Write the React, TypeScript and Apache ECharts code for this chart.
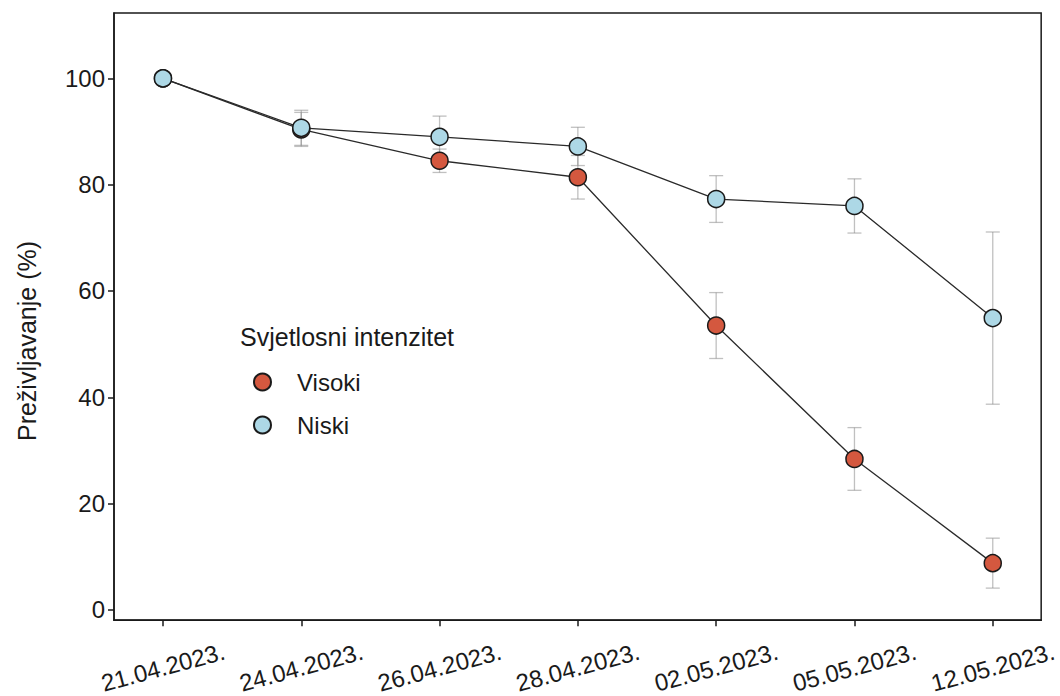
import React, { useEffect, useRef } from "react";
import * as echarts from "echarts";

const dates = ["21.04.2023.", "24.04.2023.", "26.04.2023.", "28.04.2023.", "02.05.2023.", "05.05.2023.", "12.05.2023."];
const visoki = [100, 90.4, 84.5, 81.4, 53.5, 28.4, 8.8];
const visokiErr = [0, 3.2, 2.2, 4.1, 6.2, 5.9, 4.7];
const niski = [100, 90.7, 89.0, 87.2, 77.3, 76.0, 54.9];
const niskiErr = [0, 3.3, 3.9, 3.6, 4.4, 5.1, 16.2];
const yTicks = [0, 20, 40, 60, 80, 100];
const xTicks = [0, 1, 2, 3, 4, 5, 6];

const FONT = "'Liberation Sans', Arial, Helvetica, sans-serif";
const RED = "#d4583f";
const BLUE = "#add8e6";
const INK = "#1a1a1a";

function errData(vals: number[], errs: number[]) {
  const out: number[][] = [];
  vals.forEach((v, i) => {
    if (errs[i] > 0) out.push([i, v - errs[i], v + errs[i]]);
  });
  return out;
}

function errSeries(name: string, data: number[][]) {
  return {
    type: "custom",
    name: name + "_err",
    silent: true,
    z: 1,
    data,
    encode: { x: 0, y: [1, 2] },
    renderItem: (params: any, api: any) => {
      const x = api.value(0);
      const lo = api.coord([x, api.value(1)]);
      const hi = api.coord([x, api.value(2)]);
      const w = 7;
      const style = { stroke: "rgba(140,140,140,0.55)", lineWidth: 1.3 };
      return {
        type: "group",
        children: [
          { type: "line", shape: { x1: lo[0], y1: lo[1], x2: hi[0], y2: hi[1] }, style },
          { type: "line", shape: { x1: lo[0] - w, y1: lo[1], x2: lo[0] + w, y2: lo[1] }, style },
          { type: "line", shape: { x1: hi[0] - w, y1: hi[1], x2: hi[0] + w, y2: hi[1] }, style },
        ],
      };
    },
  };
}

function lineSeries(name: string, vals: number[], color: string, z: number) {
  return {
    type: "line",
    name,
    z,
    data: vals.map((v, i) => [i, v]),
    symbol: "circle",
    symbolSize: 17,
    itemStyle: { color, borderColor: INK, borderWidth: 1.5 },
    lineStyle: { color: "#2a2a2a", width: 1.3 },
  };
}

export default function App() {
  const ref = useRef<HTMLDivElement>(null);
  useEffect(() => {
    if (!ref.current) return;
    const chart = echarts.init(ref.current, null, { renderer: "svg" });
    chart.setOption({
      animation: false,
      backgroundColor: "#fff",
      textStyle: { fontFamily: FONT },
      grid: {
        left: 114,
        right: 18,
        top: 13,
        bottom: 75,
        show: true,
        borderColor: INK,
        borderWidth: 1.5,
        backgroundColor: "transparent",
      },
      xAxis: {
        type: "value",
        min: -0.354,
        max: 6.35,
        splitLine: { show: false },
        axisLine: { show: true, onZero: false, lineStyle: { color: INK, width: 1.5 } },
        axisTick: { show: true, customValues: xTicks, length: 6, lineStyle: { color: INK, width: 1.5 } },
        axisLabel: {
          customValues: xTicks,
          formatter: (v: number) => dates[Math.round(v)],
          rotate: 15,
          align: "center",
          verticalAlign: "middle",
          margin: 47,
          fontSize: 24,
          color: INK,
          fontFamily: FONT,
        },
      },
      yAxis: {
        type: "value",
        min: -1.94,
        max: 112.3,
        splitLine: { show: false },
        axisLine: { show: true, onZero: false, lineStyle: { color: INK, width: 1.5 } },
        axisTick: { show: true, customValues: yTicks, length: 6, lineStyle: { color: INK, width: 1.5 } },
        axisLabel: {
          customValues: yTicks,
          margin: 9,
          fontSize: 24,
          color: INK,
          fontFamily: FONT,
        },
      },
      legend: {
        data: ["Visoki", "Niski"],
        orient: "vertical",
        left: 253,
        top: 370,
        padding: 0,
        itemWidth: 17,
        itemHeight: 17,
        itemGap: 19,
        icon: "circle",
        textStyle: { fontSize: 24, color: INK, fontFamily: FONT, lineHeight: 24, padding: [0, 0, 0, 21] },
      },
      graphic: [
        {
          type: "text",
          x: 240,
          y: 337,
          style: {
            text: "Svjetlosni intenzitet",
            fontSize: 25,
            fill: INK,
            fontFamily: FONT,
            verticalAlign: "middle",
          },
        },
        {
          type: "text",
          x: 27,
          y: 341,
          rotation: Math.PI / 2,
          style: {
            text: "Preživljavanje (%)",
            fontSize: 25,
            fill: INK,
            fontFamily: FONT,
            align: "center",
            verticalAlign: "middle",
          },
        },
      ],
      series: [
        errSeries("Visoki", errData(visoki, visokiErr)),
        errSeries("Niski", errData(niski, niskiErr)),
        lineSeries("Visoki", visoki, RED, 3),
        lineSeries("Niski", niski, BLUE, 4),
      ],
    });
    return () => chart.dispose();
  }, []);
  return <div ref={ref} style={{ width: 1060, height: 696, position: "absolute", left: 0, top: 0 }} />;
}
